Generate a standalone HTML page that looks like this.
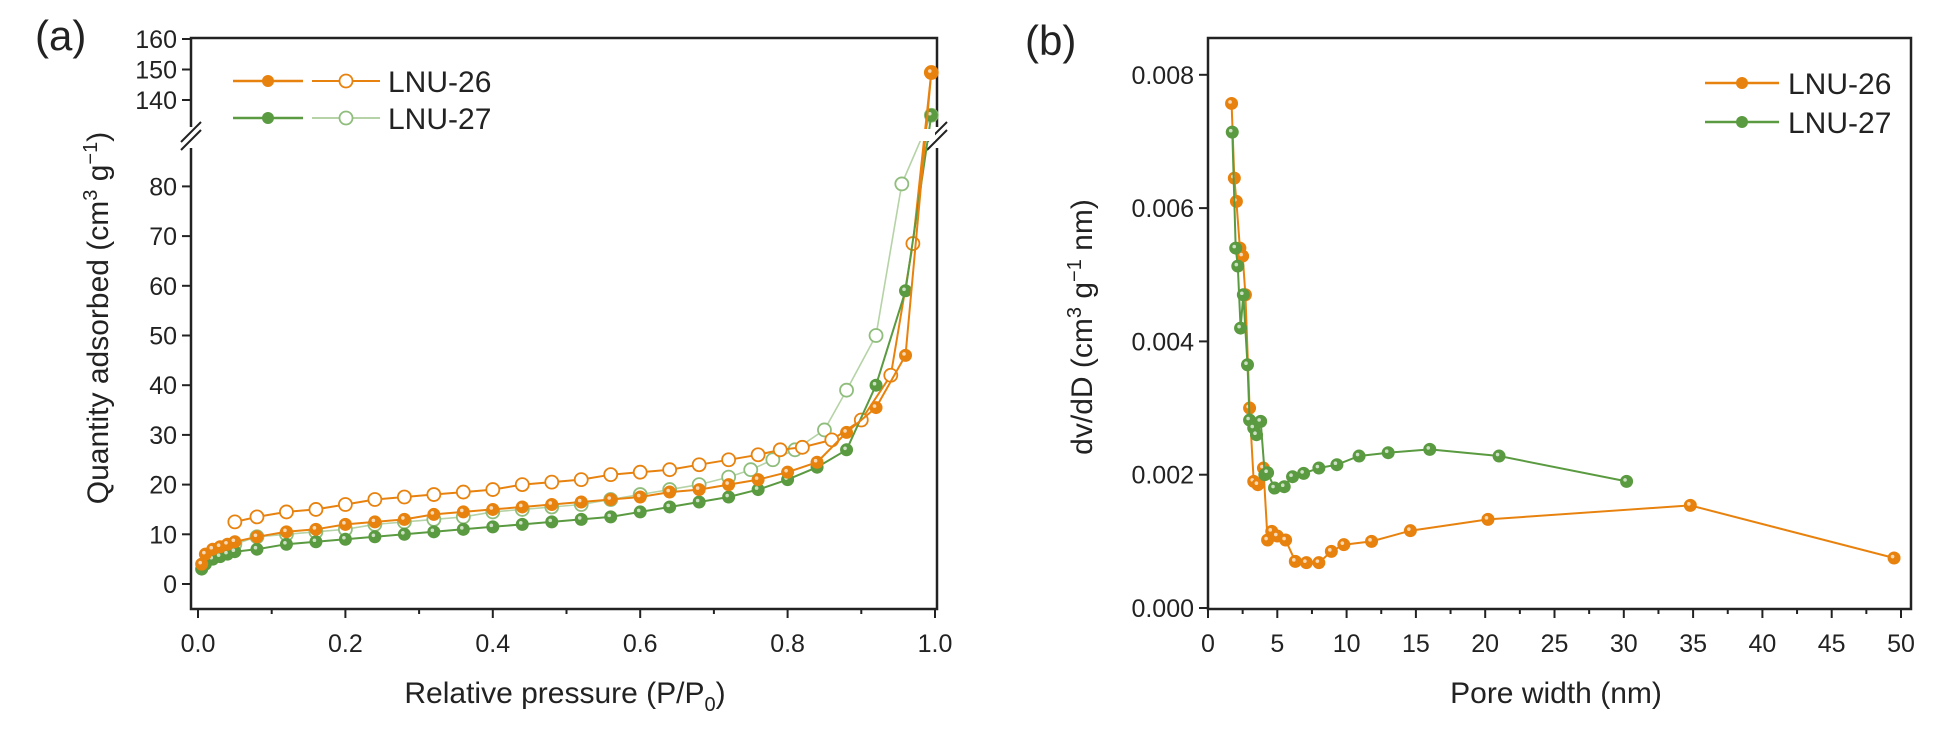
<!DOCTYPE html>
<html><head><meta charset="utf-8">
<style>
html,body{margin:0;padding:0;background:#fff;}
svg{display:block;font-family:"Liberation Sans",Arial,sans-serif;}
</style></head>
<body>
<svg id="fig" width="1945" height="729" viewBox="0 0 1945 729" xmlns="http://www.w3.org/2000/svg">
<g id="pa"></g>
<g id="pb"></g>
</svg>
<script>
// ---- Panel (a) data ----
const a26AdsP = [0.005,0.01,0.02,0.03,0.04,0.05,0.08,0.12,0.16,0.2,0.24,0.28,0.32,0.36,0.4,0.44,0.48,0.52,0.56,0.6,0.64,0.68,0.72,0.76,0.8,0.84,0.88,0.92,0.96,0.995];
const a26AdsV = [4,6,7,7.5,8,8.5,9.5,10.5,11,12,12.5,13,14,14.5,15,15.5,16,16.5,17,17.5,18.5,19,20,21,22.5,24.5,30.5,35.5,46,149];
const a26DesP = [0.995,0.97,0.94,0.9,0.86,0.82,0.79,0.76,0.72,0.68,0.64,0.6,0.56,0.52,0.48,0.44,0.4,0.36,0.32,0.28,0.24,0.2,0.16,0.12,0.08,0.05];
const a26DesV = [149,68.5,42,33,29,27.5,27,26,25,24,23,22.5,22,21,20.5,20,19,18.5,18,17.5,17,16,15,14.5,13.5,12.5];
const a27AdsP = [0.005,0.01,0.02,0.03,0.04,0.05,0.08,0.12,0.16,0.2,0.24,0.28,0.32,0.36,0.4,0.44,0.48,0.52,0.56,0.6,0.64,0.68,0.72,0.76,0.8,0.84,0.88,0.92,0.96,0.995];
const a27AdsV = [3,4,5,5.5,6,6.5,7,8,8.5,9,9.5,10,10.5,11,11.5,12,12.5,13,13.5,14.5,15.5,16.5,17.5,19,21,23.5,27,40,59,135];
const a27DesP = [0.995,0.955,0.92,0.88,0.85,0.81,0.78,0.75,0.72,0.68,0.64,0.6,0.56,0.52,0.48,0.44,0.4,0.36,0.32,0.28,0.24,0.2,0.16,0.12,0.08,0.05];
const a27DesV = [135,80.5,50,39,31,27,25,23,21.5,20,19,18,17,16,15.5,15,14.5,13.5,13,12.5,12,11,10.5,10,9.5,8];
const aXTicks = ["0.0","0.2","0.4","0.6","0.8","1.0"];
const aYTicksLow = ["0","10","20","30","40","50","60","70","80"];
const aYTicksHigh = ["140","150","160"];
// ---- Panel (b) data ----
const b26W = [1.7,1.9,2.05,2.3,2.5,2.7,3.0,3.3,3.6,4.0,4.3,4.6,5.0,5.6,6.3,7.1,8.0,8.9,9.8,11.8,14.6,20.2,34.8,49.5];
const b26V = [0.00757,0.00645,0.0061,0.0054,0.00528,0.0047,0.0030,0.0019,0.00185,0.0021,0.00102,0.00115,0.00108,0.00102,0.0007,0.00068,0.00068,0.00085,0.00095,0.001,0.00116,0.00133,0.00154,0.00075];
const b27W = [1.75,2.0,2.15,2.35,2.55,2.85,3.0,3.3,3.5,3.8,4.1,4.3,4.8,5.5,6.1,6.9,8.0,9.3,10.9,13.0,16.0,21.0,30.2];
const b27V = [0.00714,0.0054,0.00513,0.0042,0.0047,0.00365,0.00282,0.0027,0.0026,0.0028,0.002,0.00203,0.0018,0.00182,0.00197,0.00202,0.0021,0.00215,0.00228,0.00233,0.00238,0.00228,0.0019];
const bXTicks = ["0","5","10","15","20","25","30","35","40","45","50"];
const bYTicks = ["0.000","0.002","0.004","0.006","0.008"];

const NS="http://www.w3.org/2000/svg";
const ORG="#e8820e", GRN="#5a9a40", LGRN="#b5d3a6";
const TF=25, LF=30;
function mk(parent,tag,attrs,text){const e=document.createElementNS(NS,tag);for(const k in attrs)e.setAttribute(k,attrs[k]);if(text!==undefined)e.textContent=text;parent.appendChild(e);return e;}

const axX=p=>198+p*737;
const axY=v=> v<=100 ? 584 - v*4.97 : 39+(160-v)*3.05;
const bx=w=>1208+w*13.86;
const by=v=>608 - v*66650;

const pa=document.getElementById('pa'), pb=document.getElementById('pb');

function series(parent,xs,ys,fx,fy,color,lineColor,filled,lw,name){
  const g=mk(parent,'g',{});
  
  
  const pts=xs.map((x,i)=>fx(x).toFixed(1)+','+fy(ys[i]).toFixed(1)).join(' ');
  const pl=mk(g,'polyline',{points:pts,fill:'none',stroke:lineColor,'stroke-width':lw});
  
  
  xs.forEach((x,i)=>{
    const c=mk(g,'circle',{cx:fx(x),cy:fy(ys[i]),r:filled?6:6.5,fill:filled?color:'#fff',stroke:color,'stroke-width':filled?1:1.8});
    
    
    if(filled){const h=mk(g,'circle',{cx:fx(x)-1.5,cy:fy(ys[i])-1.5,r:1.8,fill:'#fff','fill-opacity':0.7});
      
      }
  });
}

// ----- Panel a -----
mk(pa,'text',{x:35,y:50,'font-size':42,fill:'#222'},'(a)');
const fa=mk(pa,'path',{d:'M191,127 V38 H937 V127 M937,148 V609 H191 V148',fill:'none',stroke:'#222','stroke-width':2.5});


[[191,130],[937,130]].forEach(([x,y])=>{
  const b=mk(pa,'path',{d:`M${x-10},${y+12} L${x+10},${y-8} M${x-10},${y+20} L${x+10},${y}`,stroke:'#222','stroke-width':2,fill:'none'});
  
  
});
aXTicks.forEach((t,i)=>{
  const p=parseFloat(t), x=axX(p);
  mk(pa,'line',{x1:x,y1:609,x2:x,y2:618,stroke:'#222','stroke-width':2});
  if(i<aXTicks.length-1){const xm=axX(p+0.1);mk(pa,'line',{x1:xm,y1:609,x2:xm,y2:614,stroke:'#222','stroke-width':2});}
  mk(pa,'text',{x:x,y:652,'font-size':TF,'text-anchor':'middle',fill:'#222'},t);
});
aYTicksLow.concat(aYTicksHigh).forEach(t=>{
  const y=axY(parseFloat(t));
  mk(pa,'line',{x1:182,y1:y,x2:191,y2:y,stroke:'#222','stroke-width':2});
  mk(pa,'text',{x:177,y:y+9,'font-size':TF,'text-anchor':'end',fill:'#222'},t);
});
const xta=mk(pa,'text',{x:565,y:703,'font-size':LF,'text-anchor':'middle',fill:'#222'});

xta.innerHTML='Relative pressure (P/P<tspan font-size="20" dy="8">0</tspan><tspan dy="-8">)</tspan>';
const yta=mk(pa,'text',{x:0,y:0,'font-size':LF,'text-anchor':'middle',fill:'#222',transform:'translate(108,318) rotate(-90)'});

yta.innerHTML='Quantity adsorbed (cm<tspan font-size="20" dy="-11">3</tspan><tspan dy="11"> g</tspan><tspan font-size="20" dy="-11">−1</tspan><tspan dy="11">)</tspan>';

series(pa,a27DesP,a27DesV,axX,axY,'#8fbd7c',LGRN,false,1.6,'lnu27-desorption');
series(pa,a26DesP,a26DesV,axX,axY,ORG,ORG,false,2,'lnu26-desorption');
series(pa,a27AdsP,a27AdsV,axX,axY,GRN,GRN,true,2,'lnu27-adsorption');
series(pa,a26AdsP,a26AdsV,axX,axY,ORG,ORG,true,2,'lnu26-adsorption');
mk(pa,'rect',{x:880,y:129,width:55,height:12,fill:'#fff'});

function legA(y,col,lcol,ocol,label){
  const g=mk(pa,'g',{});
  
  
  mk(g,'line',{x1:233,y1:y,x2:303,y2:y,stroke:col,'stroke-width':2.5});
  mk(g,'circle',{cx:268,cy:y,r:6,fill:col});
  mk(g,'line',{x1:312,y1:y,x2:380,y2:y,stroke:lcol,'stroke-width':2});
  mk(g,'circle',{cx:346,cy:y,r:6.5,fill:'#fff',stroke:ocol,'stroke-width':1.8});
  mk(g,'text',{x:388,y:y+11,'font-size':LF,fill:'#222'},label);
}
legA(81,ORG,ORG,ORG,'LNU-26');
legA(118,GRN,LGRN,'#8fbd7c','LNU-27');

// ----- Panel b -----
mk(pb,'text',{x:1025,y:55,'font-size':42,fill:'#222'},'(b)');
const fb=mk(pb,'rect',{x:1208,y:38,width:703,height:571,fill:'none',stroke:'#222','stroke-width':2.5});


bXTicks.forEach((t,i)=>{
  const w=parseFloat(t), x=bx(w);
  mk(pb,'line',{x1:x,y1:609,x2:x,y2:618,stroke:'#222','stroke-width':2});
  if(i<bXTicks.length-1){const xm=bx(w+2.5);mk(pb,'line',{x1:xm,y1:609,x2:xm,y2:614,stroke:'#222','stroke-width':2});}
  mk(pb,'text',{x:x,y:652,'font-size':TF,'text-anchor':'middle',fill:'#222'},t);
});
bYTicks.forEach(t=>{
  const y=by(parseFloat(t));
  mk(pb,'line',{x1:1199,y1:y,x2:1208,y2:y,stroke:'#222','stroke-width':2});
  mk(pb,'text',{x:1194,y:y+9,'font-size':TF,'text-anchor':'end',fill:'#222'},t);
});
mk(pb,'text',{x:1556,y:703,'font-size':LF,'text-anchor':'middle',fill:'#222'},'Pore width (nm)');
const ytb=mk(pb,'text',{x:0,y:0,'font-size':LF,'text-anchor':'middle',fill:'#222',transform:'translate(1092,327) rotate(-90)'});

ytb.innerHTML='dv/dD (cm<tspan font-size="20" dy="-11">3</tspan><tspan dy="11"> g</tspan><tspan font-size="20" dy="-11">−1</tspan><tspan dy="11"> nm)</tspan>';
series(pb,b26W,b26V,bx,by,ORG,ORG,true,2,'lnu26-pore-distribution');
series(pb,b27W,b27V,bx,by,GRN,GRN,true,2,'lnu27-pore-distribution');
function legB(y,col,label){
  const g=mk(pb,'g',{});
  
  
  mk(g,'line',{x1:1705,y1:y,x2:1779,y2:y,stroke:col,'stroke-width':2.5});
  mk(g,'circle',{cx:1742,cy:y,r:6,fill:col});
  mk(g,'text',{x:1788,y:y+11,'font-size':LF,fill:'#222'},label);
}
legB(83,ORG,'LNU-26');
legB(122,GRN,'LNU-27');
</script>
</body></html>
